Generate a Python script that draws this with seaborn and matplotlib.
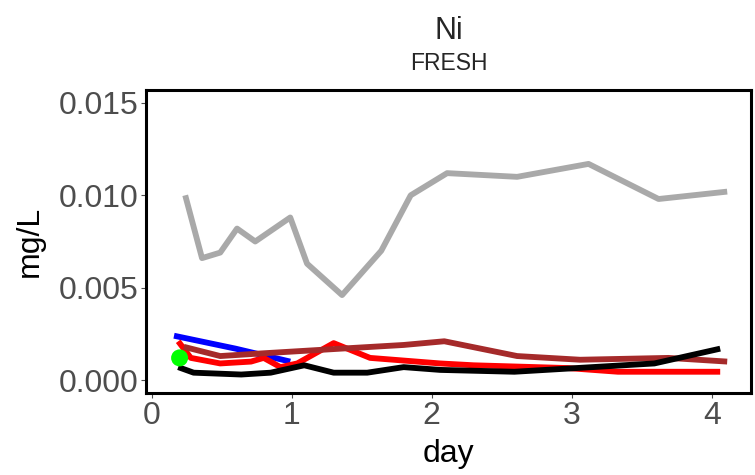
import pandas as pd
import numpy as np
import matplotlib
matplotlib.use("Agg")
import matplotlib.pyplot as plt
import seaborn as sns

# Ni concentrations (mg/L) by day, one list per site
gray_day = [0.24, 0.36, 0.49, 0.61, 0.74, 0.99, 1.11, 1.36, 1.64, 1.85, 2.11, 2.61, 3.12, 3.62, 4.11]
gray_val = [0.0100, 0.0066, 0.0069, 0.0082, 0.0075, 0.0088, 0.0063, 0.0046, 0.0070, 0.0100,
            0.0112, 0.0110, 0.0117, 0.0098, 0.0102]

blue_day = [0.16, 0.60, 0.99]
blue_val = [0.0024, 0.0017, 0.0010]

red_day = [0.19, 0.28, 0.49, 0.71, 0.80, 0.92, 1.04, 1.30, 1.56, 2.06, 2.30, 2.97, 3.33, 4.06]
red_val = [0.0021, 0.0012, 0.0009, 0.0010, 0.0012, 0.0007, 0.0009, 0.0020, 0.0012, 0.0009,
           0.0008, 0.00065, 0.00045, 0.00045]

brown_day = [0.23, 0.49, 0.80, 1.35, 1.80, 2.09, 2.61, 3.06, 3.69, 4.11]
brown_val = [0.0018, 0.0013, 0.00145, 0.0017, 0.0019, 0.0021, 0.0013, 0.0011, 0.0012, 0.0010]

black_day = [0.19, 0.30, 0.64, 0.85, 1.09, 1.30, 1.54, 1.80, 2.06, 2.59, 3.59, 4.06]
black_val = [0.0007, 0.0004, 0.0003, 0.0004, 0.0008, 0.0004, 0.0004, 0.0007, 0.00055, 0.00045,
             0.0009, 0.0017]

green_day = [0.20]
green_val = [0.0012]

series_order = ['gray', 'blue', 'red', 'brown', 'black']
palette = {'gray': '#A9A9A9', 'blue': '#0000FF', 'red': '#FF0000',
           'brown': '#A52A2A', 'black': '#000000'}

# build long-form table
frames = []
for name, d, v in [('gray', gray_day, gray_val), ('blue', blue_day, blue_val),
                   ('red', red_day, red_val), ('brown', brown_day, brown_val),
                   ('black', black_day, black_val)]:
    frames.append(pd.DataFrame({'day': d, 'conc': v, 'site': name}))
df = pd.concat(frames, ignore_index=True)
green_df = pd.DataFrame({'day': green_day, 'conc': green_val})

sns.set_theme(style="ticks")
plt.rcParams['font.family'] = ['Liberation Sans', 'DejaVu Sans']

fig = plt.figure(figsize=(7.55, 4.75), dpi=100)
ax = fig.add_axes([146 / 755, 1 - 393 / 475, (751 - 146) / 755, (393 - 90) / 475])

sns.lineplot(data=df, x='day', y='conc', hue='site', hue_order=series_order,
             palette=palette, linewidth=4.2, legend=False, ax=ax,
             estimator=None, solid_capstyle='butt')
sns.scatterplot(data=green_df, x='day', y='conc', color='#00FF00', s=150,
                edgecolor='none', ax=ax, zorder=5)

ax.set_xlim(-0.04, 4.28)
ax.set_ylim(-0.0007, 0.0157)
ax.set_xticks([0, 1, 2, 3, 4])
ax.set_yticks([0.000, 0.005, 0.010, 0.015])
ax.set_yticklabels(['0.000', '0.005', '0.010', '0.015'])
ax.tick_params(axis='both', labelsize=23, colors='#4D4D4D', length=3.5, width=0.8, pad=2)
for s in ax.spines.values():
    s.set_linewidth(2.2)
    s.set_color('black')
    s.set_visible(True)

ax.set_xlabel('day', fontsize=23, color='black', labelpad=6)
ax.set_ylabel('mg/L', fontsize=23, color='black', labelpad=10)

fig.text(448.5 / 755, 1 - 31 / 475, 'Ni', ha='center', va='center', fontsize=22)
fig.text(448.5 / 755, 1 - 63 / 475, 'FRESH', ha='center', va='center', fontsize=16.5)

fig.savefig('out.png', dpi=100, facecolor='white')
